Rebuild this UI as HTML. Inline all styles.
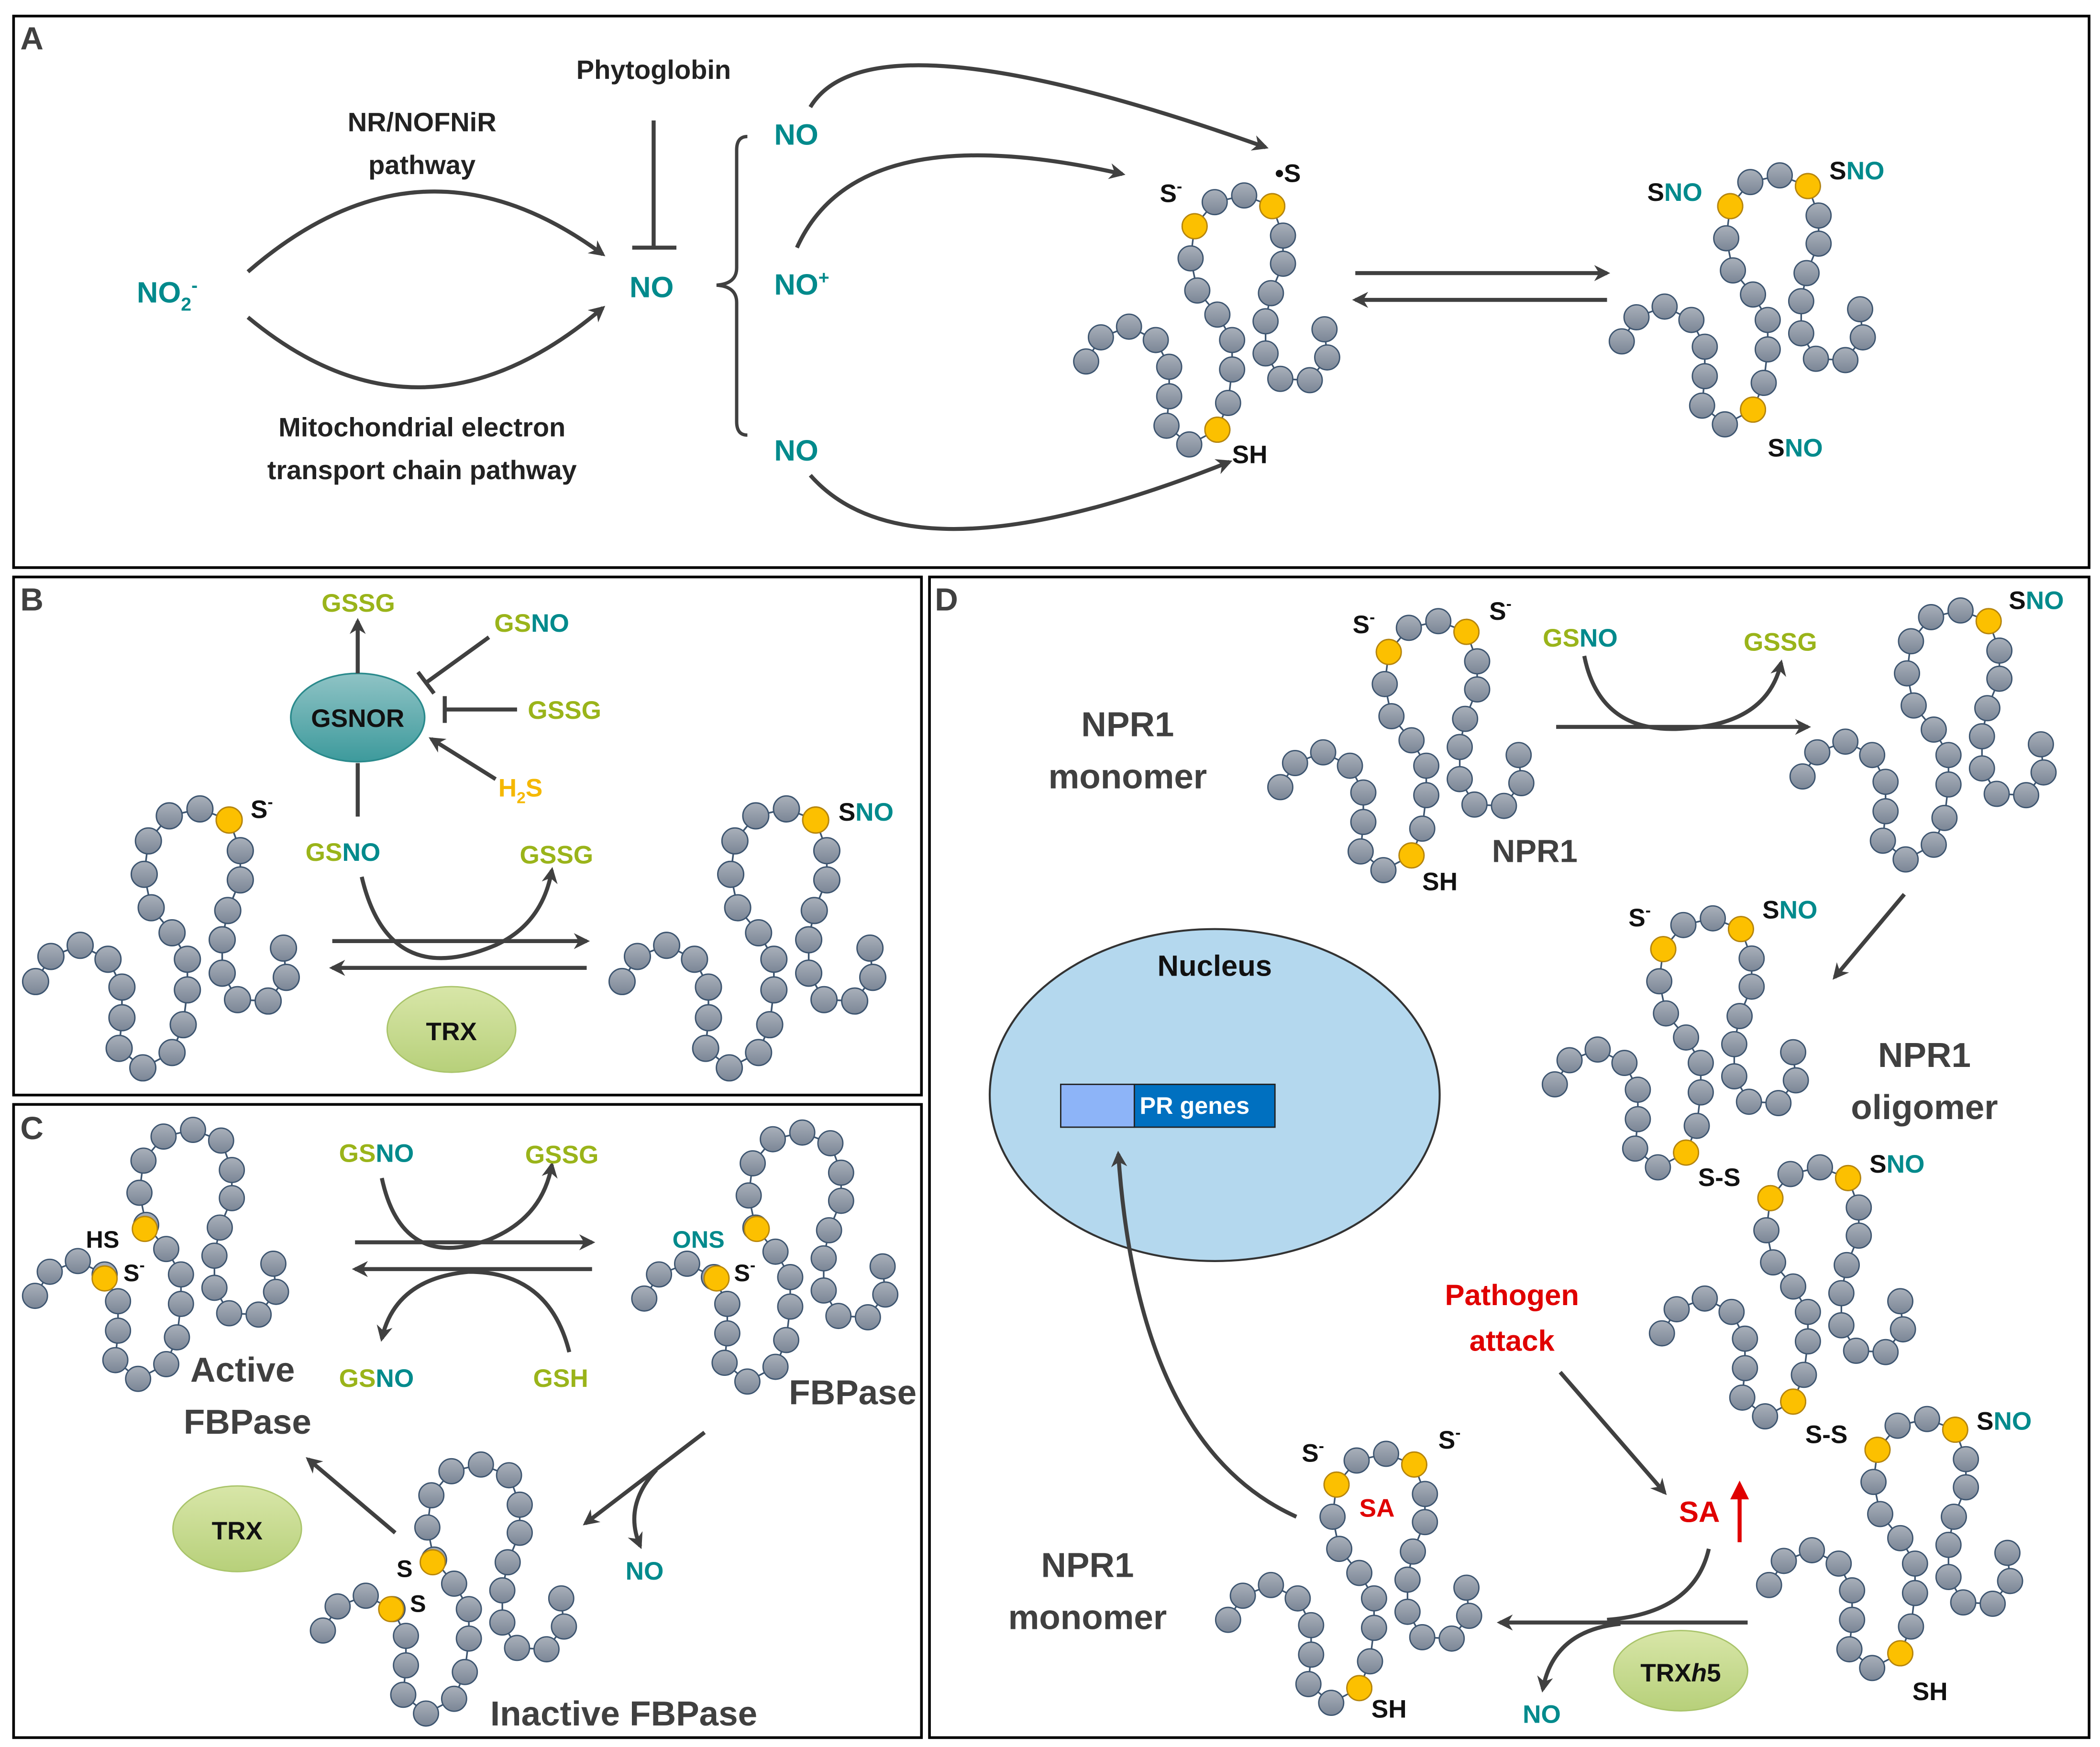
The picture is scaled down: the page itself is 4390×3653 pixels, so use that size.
<!DOCTYPE html>
<html><head><meta charset="utf-8"><style>
html,body{margin:0;padding:0;background:#fff}
svg{display:block}
text{font-family:"Liberation Sans",sans-serif;font-weight:bold}
</style></head><body>
<svg width="4390" height="3653" viewBox="0 0 1568 1305" xmlns="http://www.w3.org/2000/svg">
<defs>
<linearGradient id="gb" x1="0" y1="0" x2="0" y2="1"><stop offset="0" stop-color="#a9b0ba"/><stop offset="1" stop-color="#7b8696"/></linearGradient>
<linearGradient id="gt" x1="0" y1="0" x2="0" y2="1"><stop offset="0" stop-color="#8fc3c5"/><stop offset="1" stop-color="#3d9a9c"/></linearGradient>
<linearGradient id="gg" x1="0" y1="0" x2="0" y2="1"><stop offset="0" stop-color="#d8e6a8"/><stop offset="1" stop-color="#b7d07a"/></linearGradient>
<marker id="ar" viewBox="0 0 10 10" refX="8" refY="5" markerWidth="4" markerHeight="4" orient="auto-start-reverse"><path d="M0,0 L10,5 L0,10 L3,5 z" fill="#404040"/></marker>
<g id="chain">
<polyline fill="none" stroke="#3d5570" stroke-width="1.2" points="11,130 22,112 43,104 63,114 73,134 73,156 71,178 88,192 109,181 117,161 120,136 120,114 109,95 94,77 89,53 92,29 107,11 129,6 150,14 158,36 158,57 149,79 145,100 145,124 156,143 178,144 191,127 189,106"/>
<g fill="url(#gb)" stroke="#3d5570" stroke-width="1">
<circle cx="11" cy="130" r="9.3"/><circle cx="22" cy="112" r="9.3"/><circle cx="43" cy="104" r="9.3"/><circle cx="63" cy="114" r="9.3"/><circle cx="73" cy="134" r="9.3"/><circle cx="73" cy="156" r="9.3"/><circle cx="71" cy="178" r="9.3"/><circle cx="88" cy="192" r="9.3"/><circle cx="109" cy="181" r="9.3"/><circle cx="117" cy="161" r="9.3"/><circle cx="120" cy="136" r="9.3"/><circle cx="120" cy="114" r="9.3"/><circle cx="109" cy="95" r="9.3"/><circle cx="94" cy="77" r="9.3"/><circle cx="89" cy="53" r="9.3"/><circle cx="92" cy="29" r="9.3"/><circle cx="107" cy="11" r="9.3"/><circle cx="129" cy="6" r="9.3"/><circle cx="150" cy="14" r="9.3"/><circle cx="158" cy="36" r="9.3"/><circle cx="158" cy="57" r="9.3"/><circle cx="149" cy="79" r="9.3"/><circle cx="145" cy="100" r="9.3"/><circle cx="145" cy="124" r="9.3"/><circle cx="156" cy="143" r="9.3"/><circle cx="178" cy="144" r="9.3"/><circle cx="191" cy="127" r="9.3"/><circle cx="189" cy="106" r="9.3"/>
</g></g>
<circle id="yl" cx="92" cy="29" r="9.3" fill="#fcc000" stroke="#b8860b" stroke-width="1"/>
<circle id="yr" cx="150" cy="14" r="9.3" fill="#fcc000" stroke="#b8860b" stroke-width="1"/>
<circle id="yb" cx="109" cy="181" r="9.3" fill="#fcc000" stroke="#b8860b" stroke-width="1"/>
</defs>

<g fill="none" stroke="#000" stroke-width="2">
<rect x="10" y="12" width="1550" height="412"/>
<rect x="10" y="431" width="678" height="387"/>
<rect x="10" y="825" width="678" height="473"/>
<rect x="694" y="431" width="866" height="867"/>
</g>
<g font-size="24" fill="#404040"><text x="15" y="37">A</text><text x="15" y="456">B</text><text x="15" y="851">C</text><text x="698" y="456">D</text></g>

<!-- Panel A -->
<g fill="none" stroke="#404040" stroke-width="3">
<path d="M185,203 Q315,90 450,190" marker-end="url(#ar)"/>
<path d="M185,237 Q315,345 450,230" marker-end="url(#ar)"/>
<path d="M488,90 L488,185 M472,185 L505,185"/>
<path d="M558,102 Q550,102 550,112 L550,200 Q550,212 535,213 Q550,214 550,226 L550,315 Q550,325 558,325" stroke-width="2.5"/>
<path d="M605,80 Q650,5 945,110" marker-end="url(#ar)"/>
<path d="M595,185 Q640,85 838,130" marker-end="url(#ar)"/>
<path d="M605,355 Q680,440 918,345" marker-end="url(#ar)"/>
<path d="M1012,204 L1200,204" marker-end="url(#ar)"/>
<path d="M1200,224 L1012,224" marker-end="url(#ar)"/>
</g>
<g font-size="20" fill="#222" text-anchor="middle">
<text x="488" y="59">Phytoglobin</text>
<text x="315" y="98">NR/NOFNiR</text><text x="315" y="130">pathway</text>
<text x="315" y="326">Mitochondrial  electron</text><text x="315" y="358">transport  chain pathway</text>
</g>
<g font-size="22" fill="#008a8c">
<text x="102" y="226">NO<tspan font-size="14" dy="6">2</tspan><tspan font-size="14" dy="-14">-</tspan></text>
<text x="470" y="222">NO</text>
<text x="578" y="108">NO</text>
<text x="578" y="220">NO<tspan font-size="14" dy="-8">+</tspan></text>
<text x="578" y="344">NO</text>
</g>
<g transform="translate(800,140)"><use href="#chain"/><use href="#yl"/><use href="#yr"/><use href="#yb"/></g>
<g font-size="19" fill="#111"><text x="866" y="151">S<tspan font-size="12" dy="-8">-</tspan></text><text x="952" y="136">•S</text><text x="920" y="346">SH</text></g>
<g transform="translate(1200,125)"><use href="#chain"/><use href="#yl"/><use href="#yr"/><use href="#yb"/></g>
<g font-size="19"><text x="1230" y="150" fill="#111">S<tspan fill="#008a8c">NO</tspan></text><text x="1366" y="134" fill="#111">S<tspan fill="#008a8c">NO</tspan></text><text x="1320" y="341" fill="#111">S<tspan fill="#008a8c">NO</tspan></text></g>

<!-- Panel B -->
<ellipse cx="267" cy="536" rx="50" ry="33" fill="url(#gt)" stroke="#2a8a8c" stroke-width="1.2"/>
<text x="267" y="543" font-size="19" fill="#111" text-anchor="middle">GSNOR</text>
<g fill="none" stroke="#404040" stroke-width="3">
<path d="M267,503 L267,464" marker-end="url(#ar)"/>
<path d="M267,570 L267,610"/>
<path d="M365,476 L318,510 M312,502 L324,518"/>
<path d="M386,530 L332,530 M332,520 L332,540"/>
<path d="M370,582 L322,552" marker-end="url(#ar)"/>
<path d="M270,655 Q290,740 370,706 Q405,690 412,650" marker-end="url(#ar)"/>
<path d="M248,703 L438,703" marker-end="url(#ar)"/>
<path d="M438,723 L248,723" marker-end="url(#ar)"/>
</g>
<g font-size="19" fill="#9ab41a">
<text x="240" y="457">GSSG</text>
<text x="369" y="472">GS<tspan fill="#008a8c">NO</tspan></text>
<text x="394" y="537">GSSG</text>
<text x="372" y="595" fill="#f5b800">H<tspan font-size="12" dy="5">2</tspan><tspan dy="-5">S</tspan></text>
<text x="228" y="643">GS<tspan fill="#008a8c">NO</tspan></text>
<text x="388" y="645">GSSG</text>
</g>
<ellipse cx="337" cy="769" rx="48" ry="32" fill="url(#gg)" stroke="#a9c46a"/>
<text x="337" y="777" font-size="19" fill="#111" text-anchor="middle">TRX</text>
<g transform="translate(15,598) scale(1.04)"><use href="#chain"/><use href="#yr"/></g>
<text x="187" y="611" font-size="19" fill="#111">S<tspan font-size="12" dy="-8">-</tspan></text>
<g transform="translate(453,598) scale(1.04)"><use href="#chain"/><use href="#yr"/></g>
<text x="626" y="613" font-size="19" fill="#111">S<tspan fill="#008a8c">NO</tspan></text>

<!-- Panel C -->
<g fill="none" stroke="#404040" stroke-width="3">
<path d="M285,880 Q300,950 365,926 Q405,910 412,870" marker-end="url(#ar)"/>
<path d="M265,928 L442,928" marker-end="url(#ar)"/>
<path d="M442,948 L265,948" marker-end="url(#ar)"/>
<path d="M425,1010 Q410,950 350,950 Q295,955 285,1000" marker-end="url(#ar)"/>
<path d="M526,1070 L437,1138" marker-end="url(#ar)"/>
<path d="M490,1098 Q465,1125 478,1155" marker-end="url(#ar)"/>
<path d="M295,1145 L230,1090" marker-end="url(#ar)"/>
</g>
<g font-size="19" fill="#9ab41a">
<text x="253" y="868">GS<tspan fill="#008a8c">NO</tspan></text>
<text x="392" y="869">GSSG</text>
<text x="253" y="1036">GS<tspan fill="#008a8c">NO</tspan></text>
<text x="398" y="1036">GSH</text>
</g>
<text x="467" y="1180" font-size="19" fill="#008a8c">NO</text>
<g transform="translate(15,838)"><use href="#chain"/></g>
<circle cx="108" cy="918" r="9.3" fill="#fcc000" stroke="#b8860b"/>
<circle cx="78" cy="955" r="9.3" fill="#fcc000" stroke="#b8860b"/>
<g font-size="18" fill="#111"><text x="64" y="932">HS</text><text x="92" y="957">S<tspan font-size="12" dy="-8">-</tspan></text></g>
<g transform="translate(470,840)"><use href="#chain"/></g>
<circle cx="565" cy="918" r="9.3" fill="#fcc000" stroke="#b8860b"/>
<circle cx="535" cy="955" r="9.3" fill="#fcc000" stroke="#b8860b"/>
<g font-size="18"><text x="502" y="932" fill="#008a8c">ONS</text><text x="548" y="957" fill="#111">S<tspan font-size="12" dy="-8">-</tspan></text></g>
<g transform="translate(230,1088)"><use href="#chain"/></g>
<circle cx="323" cy="1167" r="9.3" fill="#fcc000" stroke="#b8860b"/>
<circle cx="292" cy="1202" r="9.3" fill="#fcc000" stroke="#b8860b"/>
<g font-size="18" fill="#111"><text x="296" y="1178">S</text><text x="306" y="1204">S</text></g>
<g font-size="26" fill="#404040">
<text x="142" y="1032">Active</text><text x="137" y="1071">FBPase</text>
<text x="589" y="1049">FBPase</text>
<text x="366" y="1289">Inactive FBPase</text>
</g>
<ellipse cx="177" cy="1142" rx="48" ry="32" fill="url(#gg)" stroke="#a9c46a"/>
<text x="177" y="1150" font-size="19" fill="#111" text-anchor="middle">TRX</text>

<!-- Panel D -->
<ellipse cx="907" cy="818" rx="168" ry="124" fill="#b4d8ee" stroke="#333" stroke-width="1.5"/>
<text x="907" y="729" font-size="22" fill="#111" text-anchor="middle">Nucleus</text>
<rect x="792" y="810" width="55" height="32" fill="#8db4f8" stroke="#222"/>
<rect x="847" y="810" width="105" height="32" fill="#0070c0" stroke="#222"/>
<text x="851" y="832" font-size="18" fill="#fff">PR genes</text>
<g fill="none" stroke="#404040" stroke-width="3">
<path d="M1183,490 Q1195,550 1260,544 Q1320,540 1330,495" marker-end="url(#ar)"/>
<path d="M1162,543 L1350,543" marker-end="url(#ar)"/>
<path d="M1422,668 L1370,730" marker-end="url(#ar)"/>
<path d="M968,1133 Q850,1080 835,862" marker-end="url(#ar)"/>
<path d="M1165,1025 L1243,1115" marker-end="url(#ar)"/>
<path d="M1276,1157 Q1265,1205 1200,1210" />
<path d="M1305,1212 L1120,1212" marker-end="url(#ar)"/>
<path d="M1210,1213 Q1160,1218 1152,1262" marker-end="url(#ar)"/>
</g>
<path d="M1299,1152 L1299,1112" stroke="#e00000" stroke-width="3" fill="none"/>
<path d="M1292,1120 L1299,1106 L1306,1120 z" fill="#e00000"/>
<g font-size="19" fill="#9ab41a"><text x="1152" y="483">GS<tspan fill="#008a8c">NO</tspan></text><text x="1302" y="486">GSSG</text></g>
<text x="1137" y="1287" font-size="19" fill="#008a8c">NO</text>
<g font-size="22" fill="#e00000" text-anchor="middle"><text x="1129" y="975">Pathogen</text><text x="1129" y="1009">attack</text><text x="1269" y="1137">SA</text></g>
<text x="1015" y="1133" font-size="19" fill="#e00000">SA</text>
<ellipse cx="1255" cy="1248" rx="50" ry="30" fill="url(#gg)" stroke="#a9c46a"/>
<text x="1255" y="1256" font-size="19" fill="#111" text-anchor="middle">TRX<tspan font-style="italic">h</tspan>5</text>
<g font-size="26" fill="#404040" text-anchor="middle">
<text x="842" y="550">NPR1</text><text x="842" y="589">monomer</text>
<text x="1146" y="644" font-size="24">NPR1</text>
<text x="1437" y="797">NPR1</text><text x="1437" y="836">oligomer</text>
<text x="812" y="1178">NPR1</text><text x="812" y="1217">monomer</text>
</g>
<g transform="translate(945,458)"><use href="#chain"/><use href="#yl"/><use href="#yr"/><use href="#yb"/></g>
<g font-size="19" fill="#111"><text x="1010" y="473">S<tspan font-size="12" dy="-8">-</tspan></text><text x="1112" y="463">S<tspan font-size="12" dy="-8">-</tspan></text><text x="1062" y="665">SH</text></g>
<g transform="translate(1335,450)"><use href="#chain"/><use href="#yr"/></g>
<text x="1500" y="455" font-size="19" fill="#111">S<tspan fill="#008a8c">NO</tspan></text>
<g transform="translate(1150,680)"><use href="#chain"/><use href="#yl"/><use href="#yr"/><use href="#yb"/></g>
<g font-size="19" fill="#111"><text x="1216" y="692">S<tspan font-size="12" dy="-8">-</tspan></text><text x="1316" y="686">S<tspan fill="#008a8c">NO</tspan></text><text x="1268" y="886">S-S</text></g>
<g transform="translate(1230,866)"><use href="#chain"/><use href="#yl"/><use href="#yr"/><use href="#yb"/></g>
<g font-size="19" fill="#111"><text x="1396" y="876">S<tspan fill="#008a8c">NO</tspan></text><text x="1348" y="1078">S-S</text></g>
<g transform="translate(1310,1054)"><use href="#chain"/><use href="#yl"/><use href="#yr"/><use href="#yb"/></g>
<g font-size="19" fill="#111"><text x="1476" y="1068">S<tspan fill="#008a8c">NO</tspan></text><text x="1428" y="1270">SH</text></g>
<g transform="translate(906,1080)"><use href="#chain"/><use href="#yl"/><use href="#yr"/><use href="#yb"/></g>
<g font-size="19" fill="#111"><text x="972" y="1092">S<tspan font-size="12" dy="-8">-</tspan></text><text x="1074" y="1082">S<tspan font-size="12" dy="-8">-</tspan></text><text x="1024" y="1283">SH</text></g>
</svg>
</body></html>
